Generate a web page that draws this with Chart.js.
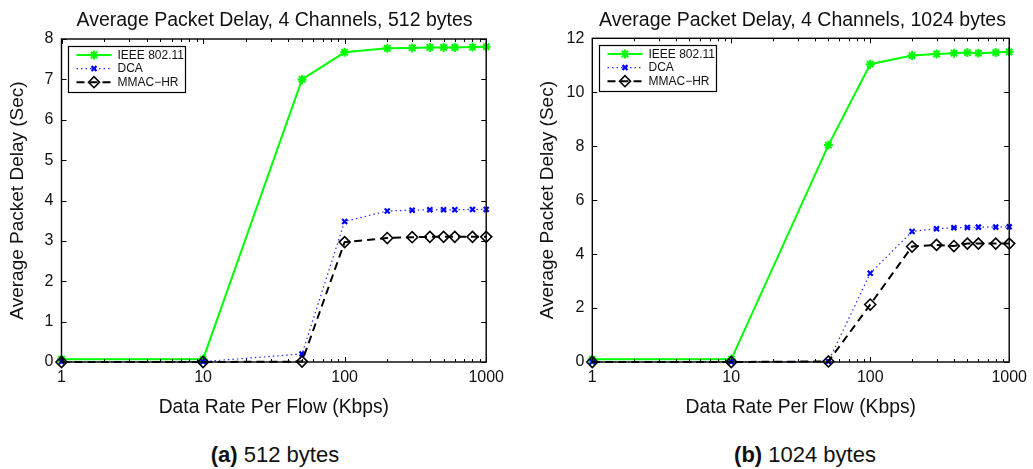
<!DOCTYPE html>
<html>
<head>
<meta charset="utf-8">
<script src="https://cdn.jsdelivr.net/npm/chart.js@4"></script>
<style>
  html, body { margin:0; padding:0; background:#fff; }
  body { width:1033px; height:469px; position:relative; overflow:hidden; font-family:"Liberation Sans", Arial, sans-serif; }
  canvas { position:absolute; top:0; }
  #c1 { left:0; }
  #c2 { left:530px; }
  .cap { position:absolute; top:441px; font-size:22px; color:#111; transform:translateX(-50%); white-space:nowrap; line-height:28px; }
  .cap b { font-weight:bold; }
  .ttl { position:absolute; top:7px; font-size:19.5px; color:#111; transform:translateX(-50%); white-space:nowrap; line-height:24px; }
</style>
</head>
<body>
<canvas id="c1" width="510" height="430"></canvas>
<canvas id="c2" width="503" height="430"></canvas>
<div class="ttl" id="t1" style="left:274.5px"></div>
<div class="ttl" id="t2" style="left:802.5px"></div>
<div class="cap" style="left:275px"><b>(a)</b> 512 bytes</div>
<div class="cap" style="left:805px"><b>(b)</b> 1024 bytes</div>
<script>
// ---- data ----
const rates = [1, 10, 50, 100, 200, 300, 400, 500, 600, 800, 1000];
const xTickValues = [1, 10, 100, 1000];
const seriesNames = ["IEEE 802.11", "DCA", "MMAC\u2212HR"];

const ieee512 = [0.07, 0.07, 7.00, 7.67, 7.77, 7.78, 7.79, 7.79, 7.79, 7.80, 7.81];
const dca512  = [0.01, 0.01, 0.20, 3.48, 3.74, 3.76, 3.77, 3.77, 3.77, 3.78, 3.78];
const mmac512 = [0.00, 0.00, 0.01, 2.97, 3.07, 3.09, 3.10, 3.10, 3.10, 3.10, 3.10];

const ieee1024 = [0.10, 0.10, 8.04, 11.04, 11.36, 11.42, 11.45, 11.47, 11.45, 11.47, 11.50];
const dca1024  = [0.01, 0.01, 0.02, 3.29, 4.84, 4.94, 4.98, 4.99, 5.00, 5.00, 5.01];
const mmac1024 = [0.00, 0.00, 0.02, 2.13, 4.28, 4.34, 4.30, 4.39, 4.39, 4.39, 4.39];

const title512 = "Average Packet Delay, 4 Channels, 512 bytes";
const title1024 = "Average Packet Delay, 4 Channels, 1024 bytes";
const xTitle = "Data Rate Per Flow (Kbps)";
const yTitle = "Average Packet Delay (Sec)";

document.getElementById('t1').textContent = title512;
document.getElementById('t2').textContent = title1024;

// ---- styling ----
const FONT = "'Liberation Sans', Arial, sans-serif";
const styles = [
  { borderColor:'#00ff00', backgroundColor:'#00ff00', borderWidth:2, borderDash:[], pointStyle:'star', pointRadius:4.5, pointBorderWidth:2, order:3 },
  { borderColor:'#2a2aff', backgroundColor:'#0000ff', borderWidth:1.2, borderDash:[1.5,3], pointStyle:'crossRot', pointRadius:3.5, pointBorderWidth:2.2, pointBorderColor:'#0000ff', order:2 },
  { borderColor:'#000000', backgroundColor:'rgba(0,0,0,0)', borderWidth:2, borderDash:[8,5], pointStyle:'rectRot', pointRadius:5.5, pointBorderWidth:1.6, order:1 }
];

function mkDatasets(seriesList) {
  return seriesList.map((vals, i) => Object.assign({
    label: seriesNames[i],
    data: rates.map((r, k) => ({ x: r, y: vals[k] })),
    clip: false,
    tension: 0,
    pointHoverRadius: 5
  }, styles[i], { pointBorderColor: styles[i].pointBorderColor || styles[i].borderColor, pointBackgroundColor: styles[i].backgroundColor }));
}

const boxPlugin = {
  id: 'matlabBox',
  afterDatasetsDraw(chart) {
    const { ctx, chartArea: a, scales: { x, y } } = chart;
    ctx.save();
    ctx.setLineDash([]);
    ctx.strokeStyle = '#000';
    ctx.lineWidth = 1;
    ctx.beginPath();
    y.ticks.forEach(t => {
      const py = Math.round(y.getPixelForValue(t.value)) + 0.5;
      ctx.moveTo(a.left, py); ctx.lineTo(a.left + 5, py);
      ctx.moveTo(a.right, py); ctx.lineTo(a.right - 5, py);
    });
    for (let d = 1; d <= 1000; d *= 10) {
      for (let m = 1; m < 10; m++) {
        const v = d * m;
        if (v > 1000) break;
        const px = Math.round(x.getPixelForValue(v)) + 0.5;
        const len = (m === 1) ? 5 : 3;
        ctx.moveTo(px, a.bottom); ctx.lineTo(px, a.bottom - len);
        ctx.moveTo(px, a.top); ctx.lineTo(px, a.top + len);
      }
    }
    ctx.stroke();
    ctx.lineWidth = 1.4;
    ctx.strokeRect(a.left, a.top, a.right - a.left, a.bottom - a.top);
    ctx.restore();
  },
  afterDraw(chart) {
    const { ctx, chartArea: a } = chart;
    const bx = Math.round(a.left + 6.5) + 0.5, by = Math.round(a.top + 6.5) + 0.5;
    const bw = 117, bh = 46;
    ctx.save();
    ctx.fillStyle = '#fff';
    ctx.fillRect(bx, by, bw, bh);
    ctx.strokeStyle = '#000';
    ctx.lineWidth = 1.2;
    ctx.setLineDash([]);
    ctx.strokeRect(bx, by, bw, bh);
    chart.data.datasets.forEach((ds, i) => {
      const yy = by + 8.5 + i * 13.6;
      const x0 = bx + 8, x1 = bx + 43;
      ctx.save();
      ctx.strokeStyle = ds.borderColor;
      ctx.lineWidth = ds.borderWidth;
      ctx.setLineDash(ds.borderDash || []);
      ctx.beginPath();
      ctx.moveTo(x0, yy); ctx.lineTo(x1, yy);
      ctx.stroke();
      ctx.setLineDash([]);
      ctx.strokeStyle = ds.pointBorderColor;
      ctx.fillStyle = ds.pointBackgroundColor;
      ctx.lineWidth = ds.pointBorderWidth;
      Chart.helpers.drawPoint(ctx, { pointStyle: ds.pointStyle, radius: ds.pointRadius, rotation: 0, borderWidth: ds.pointBorderWidth }, (x0 + x1) / 2, yy);
      ctx.restore();
      ctx.fillStyle = '#111';
      ctx.font = "12px " + FONT;
      ctx.textBaseline = 'middle';
      ctx.textAlign = 'left';
      ctx.fillText(ds.label, bx + 49, yy + 0.5);
    });
    ctx.restore();
  }
};

function mkChart(id, seriesList, ymax, ystep, yAxisWidth, padRight, padTop) {
  return new Chart(document.getElementById(id), {
    type: 'line',
    data: { datasets: mkDatasets(seriesList) },
    plugins: [boxPlugin],
    options: {
      responsive: false,
      animation: false,
      devicePixelRatio: 1,
      layout: { padding: { left: 0, right: padRight, top: padTop, bottom: 0 } },
      plugins: {
        legend: { display: false },
        tooltip: { enabled: false },
        title: { display: false }
      },
      scales: {
        x: {
          type: 'logarithmic', min: 1, max: 1000,
          grid: { display: false, drawTicks: false },
          border: { display: false },
          afterBuildTicks: s => { s.ticks = xTickValues.map(v => ({ value: v })); },
          afterFit: s => { s.height = 68; },
          ticks: {
            color: '#111', font: { family: FONT, size: 16 }, padding: 6,
            autoSkip: false, maxRotation: 0,
            callback: v => String(v)
          },
          title: {
            display: true, text: xTitle, color: '#111',
            font: { family: FONT, size: 19.3, lineHeight: 1.2 },
            padding: { top: 0, bottom: 10.6 }
          }
        },
        y: {
          min: 0, max: ymax,
          grid: { display: false, drawTicks: false },
          border: { display: false },
          afterFit: s => { s.width = yAxisWidth; },
          ticks: { stepSize: ystep, color: '#111', font: { family: FONT, size: 16 }, padding: 8 },
          title: {
            display: true, text: yTitle, color: '#111',
            font: { family: FONT, size: 19, lineHeight: 1.2 },
            padding: { top: 6, bottom: 0 }
          }
        }
      }
    }
  });
}

mkChart('c1', [ieee512, dca512, mmac512], 8, 1, 61.5, 22.5, 39);
mkChart('c2', [ieee1024, dca1024, mmac1024], 12, 2, 62.3, 20.3, 38.3);
</script>
</body>
</html>
